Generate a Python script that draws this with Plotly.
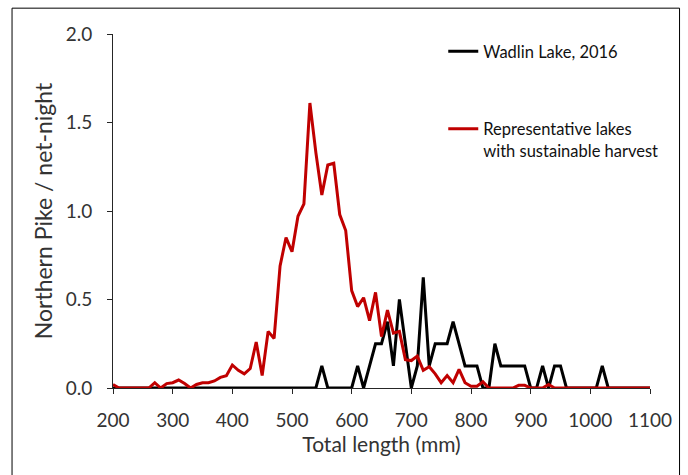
import plotly.graph_objects as go

# Total length bins (mm)
length_mm = [200, 210, 220, 230, 240, 250, 260, 270, 280, 290,
             300, 310, 320, 330, 340, 350, 360, 370, 380, 390,
             400, 410, 420, 430, 440, 450, 460, 470, 480, 490,
             500, 510, 520, 530, 540, 550, 560, 570, 580, 590,
             600, 610, 620, 630, 640, 650, 660, 670, 680, 690,
             700, 710, 720, 730, 740, 750, 760, 770, 780, 790,
             800, 810, 820, 830, 840, 850, 860, 870, 880, 890,
             900, 910, 920, 930, 940, 950, 960, 970, 980, 990,
             1000, 1010, 1020, 1030, 1040, 1050, 1060, 1070, 1080, 1090,
             1100]

wadlin_2016 = [0, 0, 0, 0, 0, 0, 0, 0, 0, 0,
               0, 0, 0, 0, 0, 0, 0, 0, 0, 0,
               0, 0, 0, 0, 0, 0, 0, 0, 0, 0,
               0, 0, 0, 0, 0, 0.125, 0, 0, 0, 0,
               0, 0.125, 0, 0.125, 0.25, 0.25, 0.375, 0.125, 0.5, 0.25,
               0, 0.125, 0.625, 0.125, 0.25, 0.25, 0.25, 0.375, 0.25, 0.125,
               0.125, 0.125, 0, 0, 0.25, 0.125, 0.125, 0.125, 0.125, 0.125,
               0, 0, 0.125, 0, 0.125, 0.125, 0, 0, 0, 0,
               0, 0, 0.125, 0, 0, 0, 0, 0, 0, 0,
               0]

representative = [0.02, 0, 0, 0, 0, 0, 0, 0.03, 0, 0.025,
                  0.03, 0.045, 0.025, 0, 0.02, 0.03, 0.03, 0.04, 0.06, 0.07,
                  0.13, 0.10, 0.08, 0.11, 0.26, 0.07, 0.32, 0.28, 0.69, 0.85,
                  0.77, 0.97, 1.04, 1.61, 1.33, 1.09, 1.26, 1.27, 0.98, 0.89,
                  0.55, 0.46, 0.51, 0.38, 0.54, 0.29, 0.44, 0.31, 0.32, 0.16,
                  0.155, 0.18, 0.10, 0.12, 0.08, 0.03, 0.07, 0.03, 0.105, 0.03,
                  0.01, 0.01, 0.035, 0, 0, 0, 0, 0, 0.015, 0.015,
                  0, 0, 0, 0.02, 0, 0, 0, 0, 0, 0,
                  0, 0, 0, 0, 0, 0, 0, 0, 0, 0,
                  0]

x_ticks = [200, 300, 400, 500, 600, 700, 800, 900, 1000, 1100]
y_ticks = [0, 0.5, 1.0, 1.5, 2.0]
y_tick_text = ["0.0", "0.5", "1.0", "1.5", "2.0"]

FONT = "Lato"
TXT = "#333333"

fig = go.Figure()
fig.add_trace(go.Scatter(
    x=length_mm, y=wadlin_2016, mode="lines",
    name="Wadlin Lake, 2016", legendgroup="a",
    line=dict(color="#000000", width=3),
))
fig.add_trace(go.Scatter(
    x=length_mm, y=representative, mode="lines",
    name="Representative lakes<br>with sustainable harvest", legendgroup="b",
    line=dict(color="#C00000", width=3),
))

fig.update_layout(
    width=688, height=475,
    margin=dict(l=113, r=38, t=34, b=87),
    paper_bgcolor="white", plot_bgcolor="white",
    font=dict(family=FONT, size=17, color=TXT),
    showlegend=True,
    legend=dict(
        x=0.615, y=1.0, xanchor="left", yanchor="top",
        bgcolor="rgba(0,0,0,0)", borderwidth=0,
        tracegroupgap=53, valign="top",
        font=dict(family=FONT, size=16.5, color="#111111"),
        traceorder="grouped",
    ),
    xaxis=dict(
        range=[200, 1100], tickvals=x_ticks,
        showgrid=False, zeroline=False,
        showline=True, linecolor="#262626", linewidth=1,
        ticks="outside", ticklen=5, tickcolor="#262626",
        ticklabelstandoff=10,
        tickfont=dict(family=FONT, size=19, color=TXT),
        title=dict(text="Total length (mm)", font=dict(family=FONT, size=21, color=TXT), standoff=6),
    ),
    yaxis=dict(
        range=[0, 2.0], tickvals=y_ticks, ticktext=y_tick_text,
        showgrid=False, zeroline=False,
        showline=True, linecolor="#262626", linewidth=1,
        ticks="outside", ticklen=5, tickcolor="#262626",
        ticklabelstandoff=11,
        tickfont=dict(family=FONT, size=19, color=TXT),
        title=dict(text="Northern Pike / net-night", font=dict(family=FONT, size=23, color=TXT), standoff=6),
    ),
    shapes=[dict(
        type="rect", xref="paper", yref="paper",
        x0=-0.188, x1=1.055, y0=-0.30, y1=1.073,
        line=dict(color="#000000", width=1), fillcolor="rgba(0,0,0,0)",
        layer="below",
    )],
)

fig.write_html("out.html")
